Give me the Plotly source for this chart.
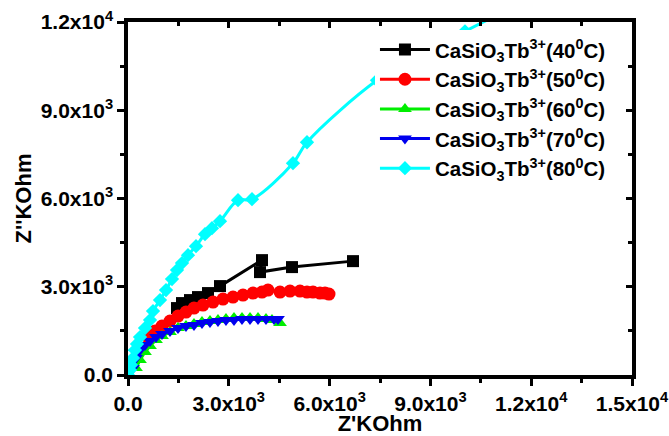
import plotly.graph_objects as go

# Nyquist data for CaSiO3:Tb3+ at different temperatures (Z', Z'' in KOhm)
x_40 = [1458, 1607, 1845, 2083, 2381, 2738, 3988, 3928, 4881, 6696]
y_40 = [2275, 2445, 2547, 2649, 2785, 3022, 3905, 3498, 3668, 3871]

x_50 = [595, 804, 1012, 1250, 1488, 1726, 1964, 2232, 2530, 2827, 3125, 3422,
        3720, 3988, 4166, 4524, 4821, 5119, 5327, 5506, 5714, 5863, 5982]
y_50 = [1290, 1494, 1664, 1834, 2004, 2139, 2275, 2377, 2479, 2581, 2649, 2717,
        2785, 2819, 2887, 2819, 2853, 2853, 2819, 2819, 2785, 2785, 2751]

x_60 = [238, 357, 506, 655, 833, 1012, 1250, 1488, 1726, 1964, 2202, 2440,
        2678, 2916, 3155, 3393, 3631, 3869, 4107, 4285, 4524]
y_60 = [238, 509, 781, 985, 1188, 1324, 1460, 1596, 1664, 1732, 1800, 1834,
        1868, 1902, 1936, 1936, 1936, 1936, 1902, 1868, 1766]

x_70 = [149, 238, 357, 506, 655, 833, 1012, 1250, 1488, 1726, 1964, 2202,
        2440, 2678, 2916, 3155, 3393, 3631, 3869, 4107, 4345, 4464]
y_70 = [238, 577, 849, 1019, 1154, 1290, 1392, 1494, 1596, 1664, 1698, 1766,
        1800, 1834, 1868, 1868, 1902, 1902, 1902, 1902, 1902, 1902]

x_80 = [0, 60, 89, 149, 208, 268, 357, 506, 655, 744, 952, 1131, 1309, 1458,
        1607, 1786, 2024, 2292, 2500, 2738, 3274, 3690, 4910, 5327, 7410,
        8690, 10029, 11100]
y_80 = [0, 170, 340, 577, 849, 1053, 1290, 1596, 1868, 2173, 2547, 2887, 3260,
        3566, 3804, 4075, 4381, 4788, 4992, 5230, 5943, 5977, 7200, 7913,
        10018, 10867, 11682, 12300]

x_ticks = [0, 3000, 6000, 9000, 12000, 15000]
x_ticktext = ["0.0", "3.0x10<sup>3</sup>", "6.0x10<sup>3</sup>", "9.0x10<sup>3</sup>",
              "1.2x10<sup>4</sup>", "1.5x10<sup>4</sup>"]
y_ticks = [0, 3000, 6000, 9000, 12000]
y_ticktext = ["0.0", "3.0x10<sup>3</sup>", "6.0x10<sup>3</sup>", "9.0x10<sup>3</sup>",
              "1.2x10<sup>4</sup>"]

FONT = "Liberation Sans, Arial, sans-serif"


def label(t):
    return f"CaSiO<sub>3</sub>Tb<sup>3+</sup>({t}<sup>0</sup>C)"


series = [
    (x_40, y_40, "40", "black", "square", 12, "linear"),
    (x_50, y_50, "50", "red", "circle", 13, "linear"),
    (x_60, y_60, "60", "#00ee00", "triangle-up", 12, "linear"),
    (x_70, y_70, "70", "#0000ee", "triangle-down", 12, "linear"),
    (x_80, y_80, "80", "cyan", "diamond", 11, "spline"),
]

fig = go.Figure()
for xs, ys, t, color, sym, size, shape in series:
    fig.add_trace(go.Scatter(
        x=xs, y=ys, mode="lines+markers", name=label(t),
        line=dict(color=color, width=3, shape=shape),
        marker=dict(symbol=sym, size=size, color=color, line=dict(width=0)),
    ))

# empty trace so the mirrored frame axes (top / right) get drawn
fig.add_trace(go.Scatter(x=[], y=[], xaxis="x2", yaxis="y2",
                         showlegend=False, hoverinfo="skip"))

axis_common = dict(
    showline=True, linecolor="black", linewidth=3.5,
    ticks="outside", tickwidth=3, ticklen=7, tickcolor="black",
    showgrid=False, zeroline=False, automargin=False,
    ticklabeloverflow="allow",
    tickfont=dict(family=FONT, size=21, color="black", weight="bold"),
)

frame_common = dict(
    showticklabels=False, showline=True, linecolor="black", linewidth=3.5,
    ticks="inside", ticklen=6, tickwidth=3, tickcolor="black",
    showgrid=False, zeroline=False, automargin=False,
)

minor_out = dict(dtick=1500, tick0=0, ticks="outside", ticklen=4, tickwidth=3, tickcolor="black")
minor_in = dict(dtick=1500, tick0=0, ticks="inside", ticklen=4, tickwidth=3, tickcolor="black")

fig.update_layout(
    width=669, height=436,
    margin=dict(l=128, r=37, t=22, b=61),
    paper_bgcolor="white", plot_bgcolor="white",
    font=dict(family=FONT, color="black"),
    xaxis=dict(
        range=[0, 15000], tickvals=x_ticks, ticktext=x_ticktext, minor=minor_out,
        title=dict(text="Z'KOhm", font=dict(family=FONT, size=22, weight="bold"), standoff=9),
        **axis_common,
    ),
    yaxis=dict(
        range=[0, 12000], tickvals=y_ticks, ticktext=y_ticktext, minor=minor_out,
        title=dict(text="Z''KOhm", font=dict(family=FONT, size=22, weight="bold"), standoff=4),
        **axis_common,
    ),
    xaxis2=dict(overlaying="x", side="top", anchor="y", range=[0, 15000],
                tickvals=x_ticks, minor=minor_in, **frame_common),
    yaxis2=dict(overlaying="y", side="right", anchor="x", range=[0, 12000],
                tickvals=y_ticks, minor=minor_in, **frame_common),
    legend=dict(
        x=0.49, y=0.978, xanchor="left", yanchor="top",
        bgcolor="white", borderwidth=0,
        font=dict(family=FONT, size=20.5, color="black", weight="bold"),
        itemwidth=50, tracegroupgap=0,
    ),
    showlegend=True,
)

fig.write_html("out.html")
